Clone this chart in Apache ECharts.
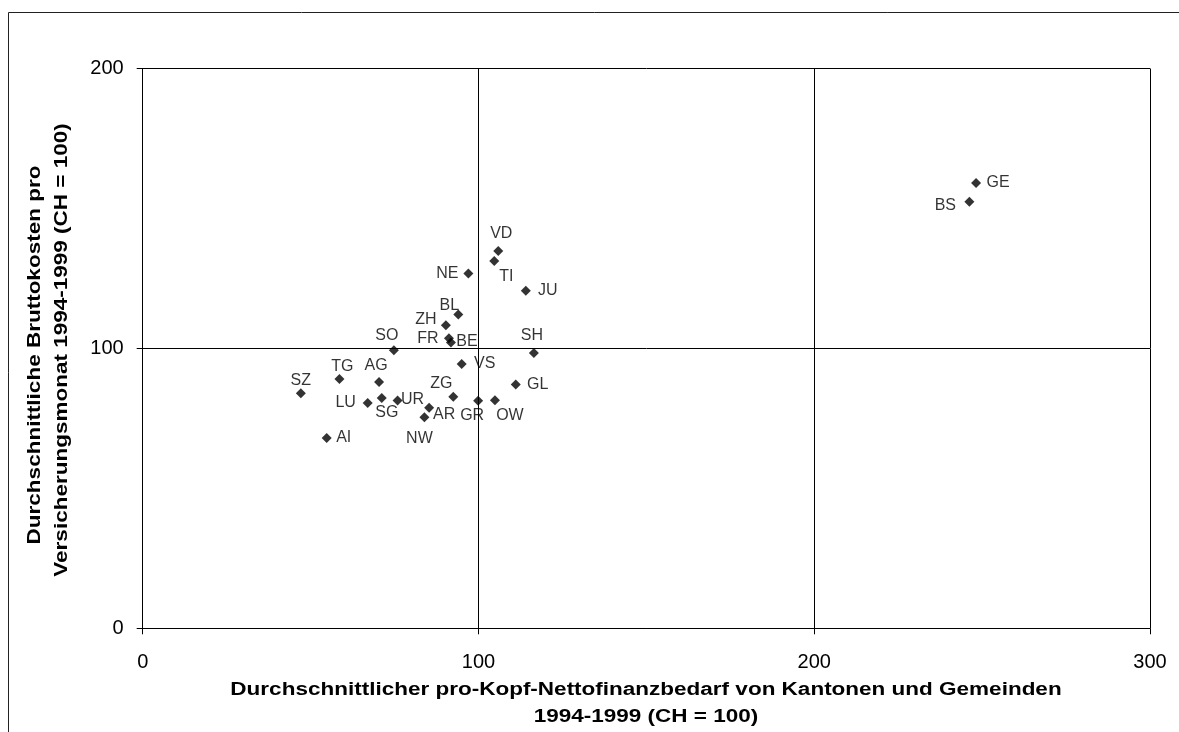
<!DOCTYPE html>
<html>
<head>
<meta charset="utf-8">
<script src="https://cdn.jsdelivr.net/npm/echarts@6/dist/echarts.min.js"></script>
<style>html,body{margin:0;padding:0;background:#fff}#c{width:1179px;height:732px}</style>
</head>
<body>
<div id="c"></div>
<script>
var cantons = ['VD','TI','NE','JU','BL','ZH','FR','BE','SO','SH','VS','TG','AG','GL','SZ','ZG','SG','UR','GR','OW','LU','AR','NW','AI','GE','BS'];
var finanzbedarf = [105.9,104.7,97.0,114.1,94.0,90.3,91.2,91.8,74.8,116.5,95.0,58.6,70.4,111.1,47.1,92.5,71.2,75.9,99.9,104.9,67.0,85.3,83.9,54.8,248.2,246.2];
var bruttokosten = [134.8,131.2,126.8,120.6,112.1,108.3,103.6,102.1,99.3,98.4,94.4,89.1,88.0,87.1,84.0,82.7,82.3,81.4,81.3,81.5,80.5,78.8,75.4,68.0,159.1,152.4];
var xTicks = [0,100,200,300];
var yTicks = [0,100,200];

// label placement (pixel offset of label centre from marker centre)
var labelOffset = {
  VD:[3,-17], TI:[12,16], NE:[-21,0], JU:[22,0], BL:[-9,-9], ZH:[-20,-6], FR:[-21,0], BE:[16,-1],
  SO:[-7,-15], SH:[-2,-17], VS:[23,0], TG:[3,-12], AG:[-3,-16], GL:[22,0], SZ:[0,-13], ZG:[-12,-13],
  SG:[5,15], UR:[15,-1], GR:[-6,15], OW:[15,15], LU:[-22,0], AR:[15,7], NW:[-5,21], AI:[17,0],
  GE:[22,0], BS:[-24,4]
};

var data = cantons.map(function(n,i){
  return {name:n, value:[finanzbedarf[i], bruttokosten[i]],
    label:{offset: labelOffset[n] || [0,0]}};
});

var chart = echarts.init(document.getElementById('c'));
var font = 'Liberation Sans, Arial, sans-serif';
chart.setOption({
  animation:false,
  backgroundColor:'#fff',
  grid:{left:142.7, top:68.5, right:29, bottom:103.7},
  xAxis:{
    type:'value', min:xTicks[0], max:xTicks[xTicks.length-1], interval:100,
    axisLine:{show:true, lineStyle:{color:'#000', width:1}},
    axisTick:{show:true, inside:false, length:6, lineStyle:{color:'#000'}},
    axisLabel:{color:'#000', fontSize:20, fontFamily:font, margin:24},
    splitLine:{show:true, lineStyle:{color:'#000', width:1}}
  },
  yAxis:{
    type:'value', min:yTicks[0], max:yTicks[yTicks.length-1], interval:100,
    axisLine:{show:true, lineStyle:{color:'#000', width:1}},
    axisTick:{show:true, inside:false, length:6, lineStyle:{color:'#000'}},
    axisLabel:{color:'#000', fontSize:20, fontFamily:font, margin:19},
    splitLine:{show:true, lineStyle:{color:'#000', width:1}}
  },
  graphic:[
    {type:'rect', silent:true, z:-1, shape:{x:8.5, y:12.5, width:1300, height:900},
     style:{fill:'none', stroke:'#222', lineWidth:1}},
    {type:'text', silent:true, x:646, y:690, scaleX:1.25,
     style:{text:'Durchschnittlicher pro-Kopf-Nettofinanzbedarf von Kantonen und Gemeinden',
       font:'bold 18px '+font, fill:'#000', textAlign:'center', textVerticalAlign:'middle'}},
    {type:'text', silent:true, x:646, y:717, scaleX:1.25,
     style:{text:'1994-1999 (CH = 100)',
       font:'bold 18px '+font, fill:'#000', textAlign:'center', textVerticalAlign:'middle'}},
    {type:'text', silent:true, x:35, y:355, rotation:Math.PI/2, scaleX:1.25,
     style:{text:'Durchschnittliche Bruttokosten pro', font:'bold 18px '+font, fill:'#000',
       textAlign:'center', textVerticalAlign:'middle'}},
    {type:'text', silent:true, x:62, y:350, rotation:Math.PI/2, scaleX:1.25,
     style:{text:'Versicherungsmonat 1994-1999 (CH = 100)', font:'bold 18px '+font, fill:'#000',
       textAlign:'center', textVerticalAlign:'middle'}}
  ],
  series:[{
    type:'scatter', symbol:'diamond', symbolSize:10,
    itemStyle:{color:'#000'},
    label:{show:true, position:'inside', formatter:'{b}', color:'#000', fontSize:16, fontFamily:font},
    data:data
  }]
});
</script>
</body>
</html>
